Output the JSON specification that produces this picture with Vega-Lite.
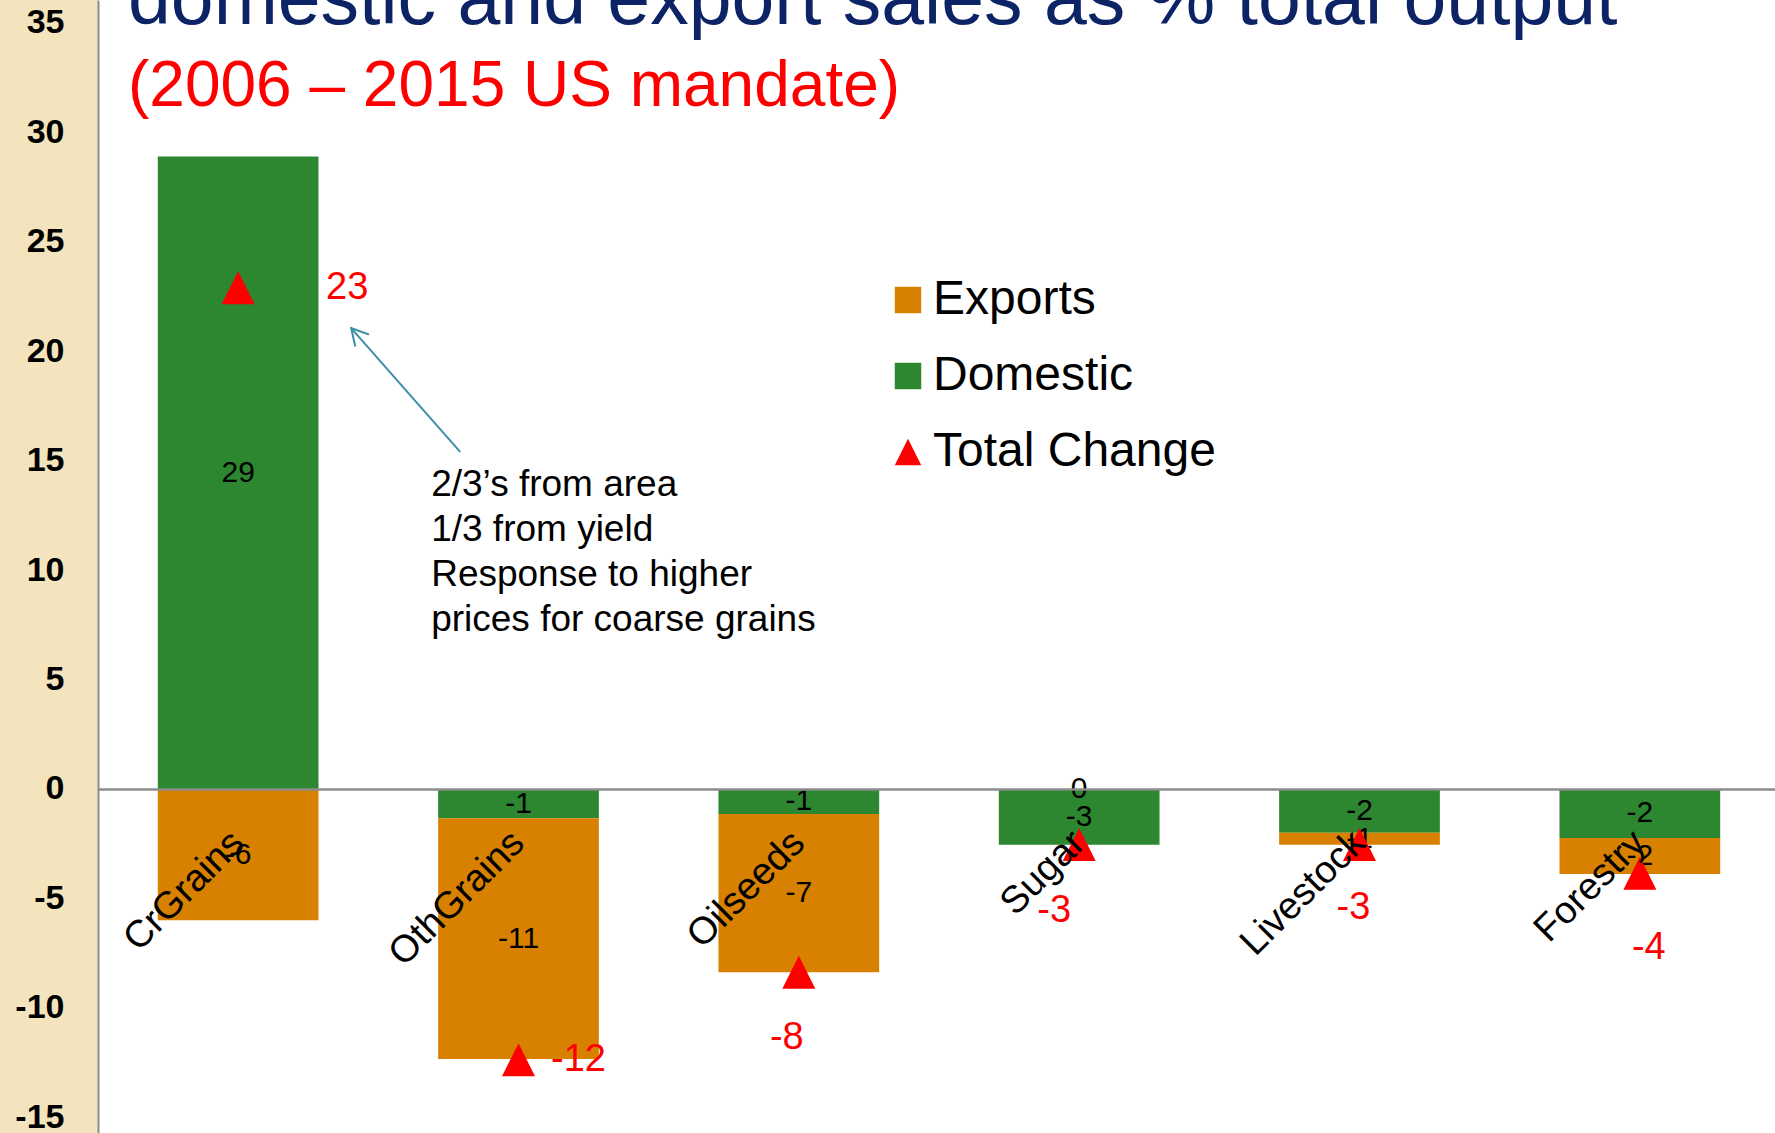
{
  "$schema": "https://vega.github.io/schema/vega-lite/v6.json",
  "width": 1682,
  "height": 1133,
  "autosize": {"type": "none"},
  "padding": {"left": 98, "top": 0, "right": 0, "bottom": 0},
  "background": "#f3e4bd",
  "config": {
    "view": {"stroke": null, "fill": "white"},
    "font": "Liberation Sans",
    "locale": {"number": {"decimal": ".", "thousands": ",", "grouping": [3], "currency": ["$", ""], "minus": "-"}},
    "axisX": {"labelAngle": -45, "labelFontSize": 38, "labelColor": "#000000", "labelFont": "Liberation Sans", "labelLimit": 600, "ticks": false, "domainColor": "#8c8c8c", "domainWidth": 2.5, "offset": -344, "labelPadding": 48, "labelAlign": "right", "labelBaseline": "middle"},
    "axisY": {"labelFontSize": 34, "labelFontWeight": "bold", "labelColor": "#000000", "labelFont": "Liberation Sans", "ticks": false, "grid": false, "domainColor": "#8c8c8c", "domainWidth": 2, "labelPadding": 34}
  },
  "title": {
    "text": "domestic and export sales as % total output",
    "subtitle": "(2006 – 2015 US mandate)",
    "anchor": "start",
    "frame": "group",
    "orient": "top",
    "offset": -120,
    "dx": 30,
    "font": "Liberation Sans",
    "fontSize": 77,
    "fontWeight": "normal",
    "color": "#0c2466",
    "subtitleFont": "Liberation Sans",
    "subtitleFontSize": 64,
    "subtitleColor": "#ff0000",
    "subtitlePadding": 15
  },
  "datasets": {
    "parts": [
      {"cat": "CrGrains", "series": "Domestic", "value": 28.9},
      {"cat": "CrGrains", "series": "Exports", "value": -6.0},
      {"cat": "OthGrains", "series": "Domestic", "value": -1.34},
      {"cat": "OthGrains", "series": "Exports", "value": -11.0},
      {"cat": "Oilseeds", "series": "Domestic", "value": -1.14},
      {"cat": "Oilseeds", "series": "Exports", "value": -7.24},
      {"cat": "Sugar", "series": "Domestic", "value": -2.55},
      {"cat": "Sugar", "series": "Exports", "value": 0},
      {"cat": "Livestock", "series": "Domestic", "value": -2.0},
      {"cat": "Livestock", "series": "Exports", "value": -0.55},
      {"cat": "Forestry", "series": "Domestic", "value": -2.24},
      {"cat": "Forestry", "series": "Exports", "value": -1.64}
    ],
    "totals": [
      {"cat": "CrGrains", "total": 22.9},
      {"cat": "OthGrains", "total": -12.37},
      {"cat": "Oilseeds", "total": -8.38},
      {"cat": "Sugar", "total": -2.54},
      {"cat": "Livestock", "total": -2.54},
      {"cat": "Forestry", "total": -3.85}
    ],
    "note": [
      {"text": "2/3’s from area\n1/3 from yield\nResponse to higher\nprices for coarse grains"}
    ]
  },
  "layer": [
    {
      "data": {"name": "parts"},
      "mark": {"type": "bar"},
      "encoding": {
        "x": {"field": "cat", "type": "nominal", "title": null,
              "scale": {"domain": ["CrGrains", "OthGrains", "Oilseeds", "Sugar", "Livestock", "Forestry"], "paddingInner": 0.4267, "paddingOuter": 0.2133},
              "axis": {"zindex": 2}},
        "y": {"field": "value", "type": "quantitative", "title": null, "stack": "zero",
              "scale": {"domain": [-15.72, 36.05], "nice": false, "zero": false},
              "axis": {"values": [-15, -10, -5, 0, 5, 10, 15, 20, 25, 30, 35], "format": "d", "zindex": 2}},
        "color": {"field": "series", "type": "nominal",
                  "scale": {"domain": ["Exports", "Domestic", "Total Change"], "range": ["#d88000", "#2d8630", "#ff0000"]},
                  "legend": {"title": null, "orient": "none", "legendX": 786, "legendY": 276, "padding": 0,
                             "labelFontSize": 48, "labelFont": "Liberation Sans", "labelColor": "#000000", "labelLimit": 600,
                             "labelOffset": 1, "rowPadding": 28, "symbolSize": 700, "symbolStrokeWidth": 0, "symbolOpacity": 1,
                             "encode": {"symbols": {"update": {"shape": {"signal": "datum.value === 'Total Change' ? 'M0,-1L1,1L-1,1Z' : 'square'"}}}}}},
        "order": {"field": "series", "sort": "ascending"}
      }
    },
    {
      "data": {"name": "parts"},
      "transform": [
        {"stack": "value", "groupby": ["cat"], "sort": [{"field": "series", "order": "ascending"}], "as": ["v0", "v1"]},
        {"calculate": "(datum.v0 + datum.v1) / 2", "as": "mid"}
      ],
      "mark": {"type": "text", "fontSize": 30, "color": "#000000", "font": "Liberation Sans"},
      "encoding": {
        "x": {"field": "cat", "type": "nominal", "title": null},
        "y": {"field": "mid", "type": "quantitative", "title": null},
        "text": {"field": "value", "type": "quantitative", "format": ".0f"}
      }
    },
    {
      "data": {"name": "totals"},
      "mark": {"type": "point", "shape": "M0,-1L1,1L-1,1Z", "filled": true, "size": 1089, "opacity": 1, "strokeWidth": 0},
      "encoding": {
        "x": {"field": "cat", "type": "nominal", "title": null},
        "y": {"field": "total", "type": "quantitative", "title": null},
        "color": {"datum": "Total Change"}
      }
    },
    {
      "data": {"name": "totals"},
      "transform": [{"filter": "datum.cat === 'CrGrains'"}],
      "mark": {"type": "text", "fontSize": 38, "color": "#ff0000", "dx": 109},
      "encoding": {
        "x": {"field": "cat", "type": "nominal", "title": null},
        "y": {"field": "total", "type": "quantitative", "title": null},
        "text": {"field": "total", "type": "quantitative", "format": ".0f"}
      }
    },
    {
      "data": {"name": "totals"},
      "transform": [{"filter": "datum.cat === 'OthGrains'"}],
      "mark": {"type": "text", "fontSize": 38, "color": "#ff0000", "dx": 60},
      "encoding": {
        "x": {"field": "cat", "type": "nominal", "title": null},
        "y": {"field": "total", "type": "quantitative", "title": null},
        "text": {"field": "total", "type": "quantitative", "format": ".0f"}
      }
    },
    {
      "data": {"name": "totals"},
      "transform": [{"filter": "datum.cat === 'Oilseeds'"}],
      "mark": {"type": "text", "fontSize": 38, "color": "#ff0000", "dx": -12, "dy": 66},
      "encoding": {
        "x": {"field": "cat", "type": "nominal", "title": null},
        "y": {"field": "total", "type": "quantitative", "title": null},
        "text": {"field": "total", "type": "quantitative", "format": ".0f"}
      }
    },
    {
      "data": {"name": "totals"},
      "transform": [{"filter": "datum.cat === 'Sugar'"}],
      "mark": {"type": "text", "fontSize": 38, "color": "#ff0000", "dx": -25, "dy": 66},
      "encoding": {
        "x": {"field": "cat", "type": "nominal", "title": null},
        "y": {"field": "total", "type": "quantitative", "title": null},
        "text": {"field": "total", "type": "quantitative", "format": ".0f"}
      }
    },
    {
      "data": {"name": "totals"},
      "transform": [{"filter": "datum.cat === 'Livestock'"}],
      "mark": {"type": "text", "fontSize": 38, "color": "#ff0000", "dx": -6, "dy": 63},
      "encoding": {
        "x": {"field": "cat", "type": "nominal", "title": null},
        "y": {"field": "total", "type": "quantitative", "title": null},
        "text": {"field": "total", "type": "quantitative", "format": ".0f"}
      }
    },
    {
      "data": {"name": "totals"},
      "transform": [{"filter": "datum.cat === 'Forestry'"}],
      "mark": {"type": "text", "fontSize": 38, "color": "#ff0000", "dx": 9, "dy": 75},
      "encoding": {
        "x": {"field": "cat", "type": "nominal", "title": null},
        "y": {"field": "total", "type": "quantitative", "title": null},
        "text": {"field": "total", "type": "quantitative", "format": ".0f"}
      }
    },
    {
      "data": {"name": "note"},
      "mark": {"type": "text", "fontSize": 37, "color": "#000000", "align": "left", "baseline": "middle", "lineBreak": "\n", "lineHeight": 45, "dx": 193},
      "encoding": {
        "x": {"datum": "CrGrains", "type": "nominal"},
        "y": {"datum": 13.9, "type": "quantitative"},
        "text": {"field": "text"}
      }
    },
    {
      "data": {"name": "note"},
      "mark": {"type": "rule", "color": "#3c8fa6", "strokeWidth": 2, "xOffset": 222, "x2Offset": 113},
      "encoding": {
        "x": {"datum": "CrGrains", "type": "nominal"},
        "x2": {"datum": "CrGrains"},
        "y": {"datum": 15.4, "type": "quantitative"},
        "y2": {"datum": 21.06}
      }
    },
    {
      "data": {"name": "note"},
      "mark": {"type": "point", "shape": "M-0.55,1L0,0L0.55,1", "filled": false, "size": 1100, "angle": 318.6, "color": "#3c8fa6", "strokeWidth": 2, "opacity": 1, "xOffset": 113},
      "encoding": {
        "x": {"datum": "CrGrains", "type": "nominal"},
        "y": {"datum": 21.06, "type": "quantitative"}
      }
    }
  ]
}
